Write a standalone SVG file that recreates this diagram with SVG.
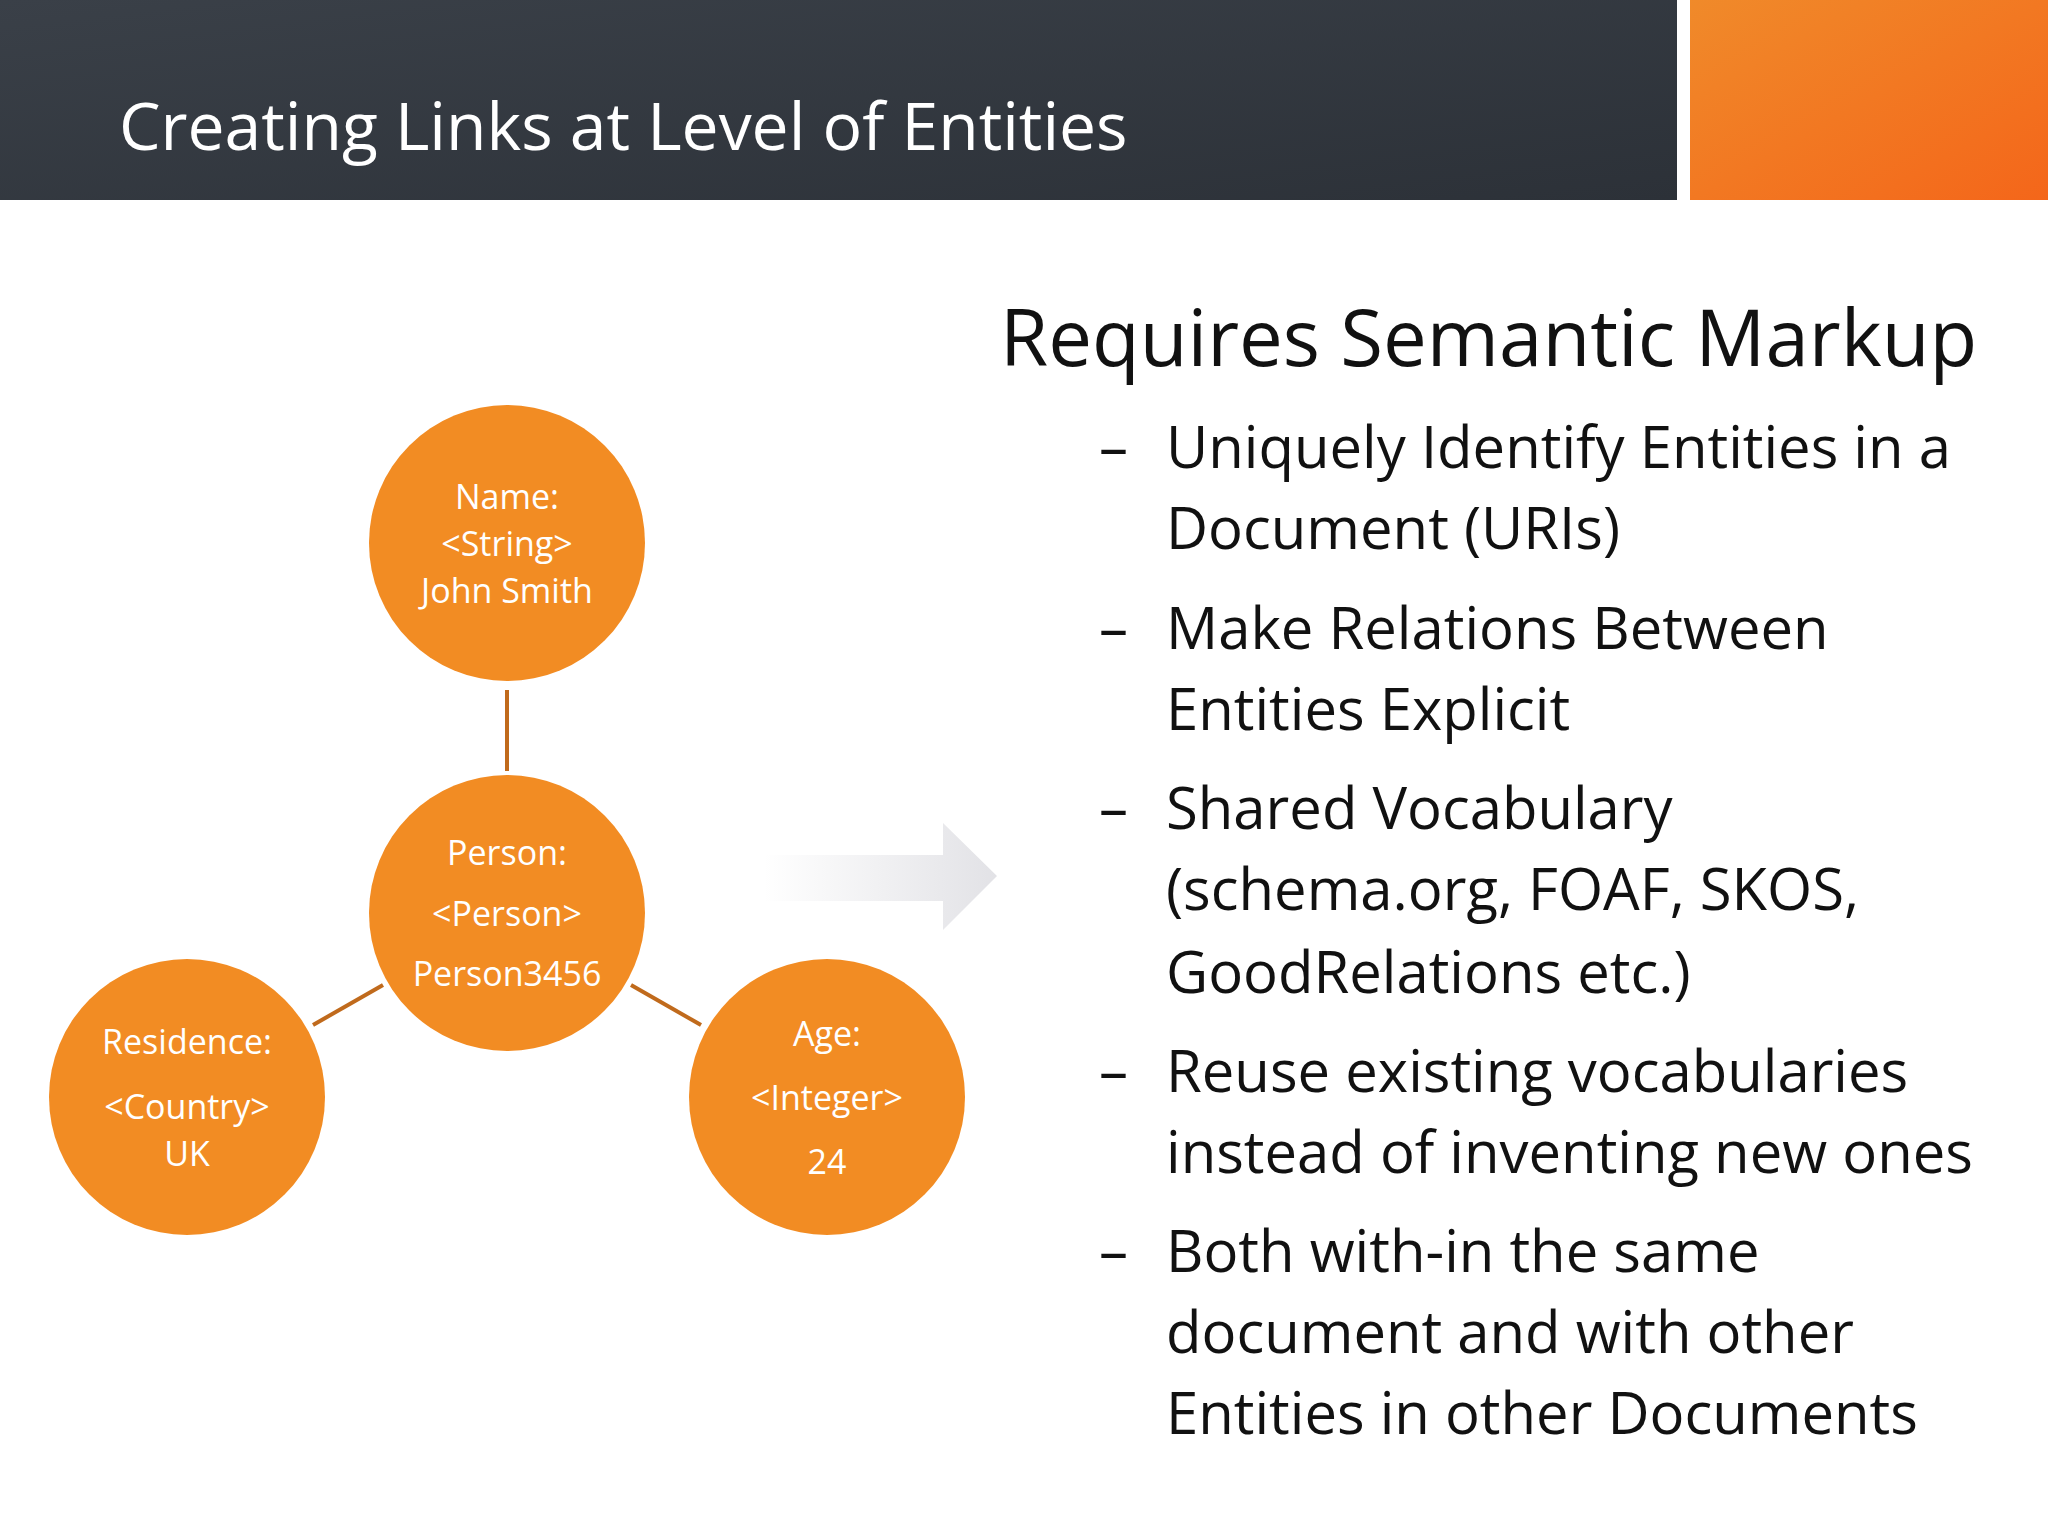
<svg xmlns="http://www.w3.org/2000/svg" width="2048" height="1536" viewBox="0 0 2048 1536">
<defs>
<linearGradient id="hdr" x1="0" y1="0" x2="1" y2="1"><stop offset="0" stop-color="#3a4048"/><stop offset="1" stop-color="#2c3138"/></linearGradient>
<linearGradient id="org" x1="0" y1="0" x2="1" y2="1"><stop offset="0" stop-color="#f08a2a"/><stop offset="1" stop-color="#f4661a"/></linearGradient>
<linearGradient id="arr" x1="0" y1="0" x2="1" y2="0"><stop offset="0" stop-color="#ffffff"/><stop offset="1" stop-color="#e2e2e6"/></linearGradient>
<style>
.n{fill:#f28c23}
.nt{font-family:"Open Sans",sans-serif;font-size:34px;fill:#ffffff;text-anchor:middle;dominant-baseline:central}
.c{stroke:#c06a1c;stroke-width:4;fill:none}
.b{font-family:"Open Sans",sans-serif;font-size:58px;fill:#111111}
</style>
</defs>
<rect width="2048" height="1536" fill="#ffffff"/>
<rect x="0" y="0" width="1677" height="200" fill="url(#hdr)"/>
<rect x="1690" y="0" width="358" height="200" fill="url(#org)"/>
<text x="119" y="150" font-family="'Open Sans',sans-serif" font-size="66" fill="#ffffff">Creating Links at Level of Entities</text>
<g id="connectors">
<line class="c" x1="507" y1="690" x2="507" y2="771"/>
<line class="c" x1="313" y1="1025" x2="383" y2="985"/>
<line class="c" x1="631" y1="985" x2="701" y2="1025"/>
</g>
<g id="name"><circle class="n" cx="507" cy="543" r="138"/>
<text class="nt" x="507" y="496">Name:</text><text class="nt" x="507" y="543">&lt;String&gt;</text><text class="nt" x="507" y="590">John Smith</text></g>
<g id="person"><circle class="n" cx="507" cy="913" r="138"/>
<text class="nt" x="507" y="852">Person:</text><text class="nt" x="507" y="913">&lt;Person&gt;</text><text class="nt" x="507" y="973">Person3456</text></g>
<g id="residence"><circle class="n" cx="187" cy="1097" r="138"/>
<text class="nt" x="187" y="1041">Residence:</text><text class="nt" x="187" y="1106">&lt;Country&gt;</text><text class="nt" x="187" y="1153">UK</text></g>
<g id="age"><circle class="n" cx="827" cy="1097" r="138"/>
<text class="nt" x="827" y="1033">Age:</text><text class="nt" x="827" y="1097">&lt;Integer&gt;</text><text class="nt" x="827" y="1161">24</text></g>
<polygon points="764,855 943,855 943,823 997,876 943,930 943,901 764,901" fill="url(#arr)"/>
<text x="1000" y="366" font-family="'Open Sans',sans-serif" font-size="78" fill="#111111">Requires Semantic Markup</text>
<g class="b">
<text x="1099" y="468">–</text><text x="1166" y="468">Uniquely Identify Entities in a</text>
<text x="1166" y="549">Document (URIs)</text>
<text x="1099" y="649">–</text><text x="1166" y="649">Make Relations Between</text>
<text x="1166" y="730">Entities Explicit</text>
<text x="1099" y="829">–</text><text x="1166" y="829">Shared Vocabulary</text>
<text x="1166" y="910">(schema.org, FOAF, SKOS,</text>
<text x="1166" y="993">GoodRelations etc.)</text>
<text x="1099" y="1092">–</text><text x="1166" y="1092">Reuse existing vocabularies</text>
<text x="1166" y="1173">instead of inventing new ones</text>
<text x="1099" y="1272">–</text><text x="1166" y="1272">Both with-in the same</text>
<text x="1166" y="1353">document and with other</text>
<text x="1166" y="1434">Entities in other Documents</text>
</g>
</svg>
